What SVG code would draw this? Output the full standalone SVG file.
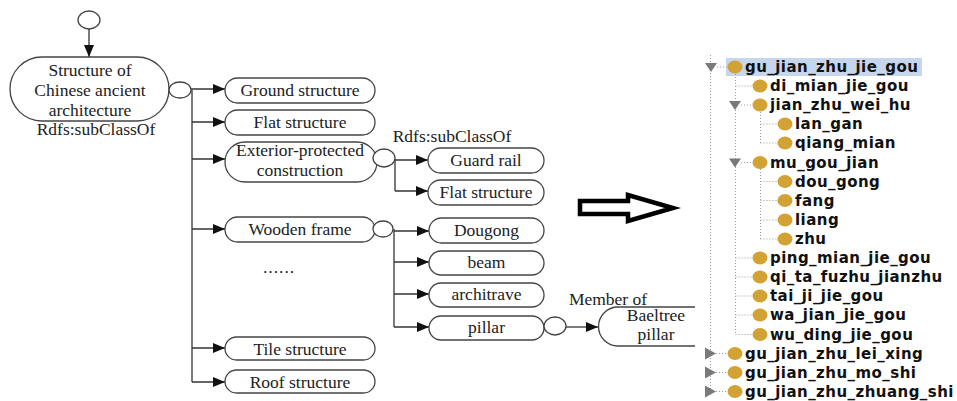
<svg xmlns="http://www.w3.org/2000/svg" width="957" height="401" viewBox="0 0 957 401">
<style>
.n{fill:#fff;stroke:#444;stroke-width:1.3}
.c{fill:#fff;stroke:#444;stroke-width:1.3}
.l{fill:none;stroke:#333;stroke-width:1.3}
.t{font-family:"Liberation Serif","Times New Roman",serif;font-size:17.5px;fill:#222;text-anchor:middle}
.tr{font-family:"DejaVu Sans",sans-serif;font-weight:bold;font-size:15px;letter-spacing:0.45px;fill:#111}
.dot{fill:#d3a234}
.dl{fill:none;stroke:#9a9a9a;stroke-width:1;stroke-dasharray:1 2}
.tri{fill:#7a7a7a}
</style>
<defs>
<marker id="ah" markerWidth="12" markerHeight="10" refX="12" refY="5" orient="auto" markerUnits="userSpaceOnUse"><path d="M0,0 L12,5 L0,10 z" fill="#111"/></marker>
</defs>

<g id="connectors">
<line class="l" x1="89" y1="29" x2="89" y2="57" marker-end="url(#ah)"/>
<path class="l" d="M192,90 V382"/>
<line class="l" x1="191" y1="89" x2="225" y2="89" marker-end="url(#ah)"/>
<line class="l" x1="192" y1="122" x2="225" y2="122" marker-end="url(#ah)"/>
<line class="l" x1="192" y1="159" x2="225" y2="159" marker-end="url(#ah)"/>
<line class="l" x1="192" y1="229" x2="225" y2="229" marker-end="url(#ah)"/>
<line class="l" x1="192" y1="348" x2="225" y2="348" marker-end="url(#ah)"/>
<line class="l" x1="192" y1="382" x2="225" y2="382" marker-end="url(#ah)"/>
<path class="l" d="M395,159 V191"/>
<line class="l" x1="395" y1="160" x2="428" y2="160" marker-end="url(#ah)"/>
<line class="l" x1="395" y1="191" x2="428" y2="191" marker-end="url(#ah)"/>
<path class="l" d="M394,229 V327"/>
<line class="l" x1="394" y1="231" x2="429" y2="231" marker-end="url(#ah)"/>
<line class="l" x1="394" y1="262" x2="429" y2="262" marker-end="url(#ah)"/>
<line class="l" x1="394" y1="294" x2="429" y2="294" marker-end="url(#ah)"/>
<line class="l" x1="394" y1="327" x2="429" y2="327" marker-end="url(#ah)"/>
<line class="l" x1="566" y1="327" x2="598" y2="327" marker-end="url(#ah)"/>
</g>

<g id="top-circle"><ellipse class="c" cx="89" cy="20" rx="11" ry="9"/></g>

<g id="root">
<rect class="n" x="10" y="57" width="159" height="64" rx="32" ry="32"/>
<text class="t" x="90" y="76">Structure of</text>
<text class="t" x="90" y="96">Chinese ancient</text>
<text class="t" x="90" y="116">architecture</text>
<text class="t" x="96" y="135">Rdfs:subClassOf</text>
<ellipse class="c" cx="180" cy="90" rx="11" ry="8"/>
</g>

<g id="ground"><rect class="n" x="225" y="78" width="150" height="25" rx="12.5"/><text class="t" x="300" y="96">Ground structure</text></g>
<g id="flat"><rect class="n" x="225" y="110" width="150" height="25" rx="12.5"/><text class="t" x="300" y="128">Flat structure</text></g>
<g id="exterior">
<rect class="n" x="225" y="142" width="152" height="40" rx="20"/>
<text class="t" x="300" y="156">Exterior-protected</text>
<text class="t" x="300" y="176">construction</text>
<ellipse class="c" cx="384" cy="158" rx="11" ry="9"/>
<text class="t" x="452" y="142">Rdfs:subClassOf</text>
</g>
<g id="guard"><rect class="n" x="428" y="148" width="116" height="25" rx="12.5"/><text class="t" x="486" y="166">Guard rail</text></g>
<g id="flat2"><rect class="n" x="428" y="180" width="116" height="25" rx="12.5"/><text class="t" x="486" y="198">Flat structure</text></g>
<g id="wooden">
<rect class="n" x="225" y="217" width="150" height="25" rx="12.5"/>
<text class="t" x="300" y="235">Wooden frame</text>
<ellipse class="c" cx="383" cy="229" rx="10" ry="8"/>
</g>
<g id="dots"><text class="t" x="279" y="273" style="letter-spacing:1px">......</text></g>
<g id="dougong"><rect class="n" x="429" y="218" width="115" height="25" rx="12.5"/><text class="t" x="486.5" y="236">Dougong</text></g>
<g id="beam"><rect class="n" x="429" y="251" width="115" height="24" rx="12"/><text class="t" x="486.5" y="268">beam</text></g>
<g id="architrave"><rect class="n" x="429" y="283" width="115" height="24" rx="12"/><text class="t" x="486.5" y="300">architrave</text></g>
<g id="pillar">
<rect class="n" x="429" y="316" width="115" height="24" rx="12"/>
<text class="t" x="486.5" y="333">pillar</text>
<ellipse class="c" cx="555" cy="326" rx="11" ry="9"/>
</g>
<g id="baeltree">
<path class="n" d="M695,307 H618 A19.5,19.5 0 0 0 618,346 H695"/>
<text class="t" x="608" y="305">Member of</text>
<text class="t" x="656" y="321">Baeltree</text>
<text class="t" x="656" y="340">pillar</text>
</g>
<g id="tile"><rect class="n" x="225" y="337" width="150" height="23" rx="11.5"/><text class="t" x="300" y="355">Tile structure</text></g>
<g id="roof"><rect class="n" x="225" y="370" width="150" height="23" rx="11.5"/><text class="t" x="300" y="388">Roof structure</text></g>

<g id="big-arrow"><polygon points="580,201 628,201 628,195 673,208 628,221 628,214 580,214" fill="#fff" stroke="#000" stroke-width="4.5" stroke-linejoin="miter"/></g>

<g id="tree">
<rect x="726" y="58" width="196" height="18" fill="#c6d6ec"/>
<path class="dl" d="M710.5,55 V392 M735.5,74 V334.5 M760.5,112 V143 M760.5,169 V239"/>
<path class="dl" d="M717,67 H728 M716,353.5 H728 M716,372.5 H728 M716,391.5 H728"/>
<path class="dl" d="M735.5,86 H753 M741,105 H753 M741,162.5 H753 M735.5,258 H753 M735.5,277 H753 M735.5,296 H753 M735.5,315 H753 M735.5,334.5 H753"/>
<path class="dl" d="M760.5,124 H778 M760.5,143 H778 M760.5,181.5 H778 M760.5,200.5 H778 M760.5,220 H778 M760.5,239 H778"/>
<polygon class="tri" points="705,63 717,63 711,72"/>
<polygon class="tri" points="729,101 741,101 735,110"/>
<polygon class="tri" points="729,158.5 741,158.5 735,167.5"/>
<polygon class="tri" points="705,347.5 705,359.5 716,353.5"/>
<polygon class="tri" points="705,366.5 705,378.5 716,372.5"/>
<polygon class="tri" points="705,385.5 705,397.5 716,391.5"/>

<g id="r0"><ellipse class="dot" cx="735" cy="67" rx="7.5" ry="6.5"/><text class="tr" x="745" y="72">gu_jian_zhu_jie_gou</text></g>
<g id="r1"><ellipse class="dot" cx="760" cy="86" rx="7.5" ry="6.5"/><text class="tr" x="770" y="91">di_mian_jie_gou</text></g>
<g id="r2"><ellipse class="dot" cx="760" cy="105" rx="7.5" ry="6.5"/><text class="tr" x="770" y="110">jian_zhu_wei_hu</text></g>
<g id="r3"><ellipse class="dot" cx="785" cy="124" rx="7.5" ry="6.5"/><text class="tr" x="795" y="129">lan_gan</text></g>
<g id="r4"><ellipse class="dot" cx="785" cy="143" rx="7.5" ry="6.5"/><text class="tr" x="795" y="148">qiang_mian</text></g>
<g id="r5"><ellipse class="dot" cx="760" cy="162.5" rx="7.5" ry="6.5"/><text class="tr" x="770" y="167.5">mu_gou_jian</text></g>
<g id="r6"><ellipse class="dot" cx="785" cy="181.5" rx="7.5" ry="6.5"/><text class="tr" x="795" y="186.5">dou_gong</text></g>
<g id="r7"><ellipse class="dot" cx="785" cy="200.5" rx="7.5" ry="6.5"/><text class="tr" x="795" y="205.5">fang</text></g>
<g id="r8"><ellipse class="dot" cx="785" cy="220" rx="7.5" ry="6.5"/><text class="tr" x="795" y="225">liang</text></g>
<g id="r9"><ellipse class="dot" cx="785" cy="239" rx="7.5" ry="6.5"/><text class="tr" x="795" y="244">zhu</text></g>
<g id="r10"><ellipse class="dot" cx="760" cy="258" rx="7.5" ry="6.5"/><text class="tr" x="770" y="263">ping_mian_jie_gou</text></g>
<g id="r11"><ellipse class="dot" cx="760" cy="277" rx="7.5" ry="6.5"/><text class="tr" x="770" y="282">qi_ta_fuzhu_jianzhu</text></g>
<g id="r12"><ellipse class="dot" cx="760" cy="296" rx="7.5" ry="6.5"/><text class="tr" x="770" y="301">tai_ji_jie_gou</text></g>
<g id="r13"><ellipse class="dot" cx="760" cy="315" rx="7.5" ry="6.5"/><text class="tr" x="770" y="320">wa_jian_jie_gou</text></g>
<g id="r14"><ellipse class="dot" cx="760" cy="334.5" rx="7.5" ry="6.5"/><text class="tr" x="770" y="339.5">wu_ding_jie_gou</text></g>
<g id="r15"><ellipse class="dot" cx="735" cy="353.5" rx="7.5" ry="6.5"/><text class="tr" x="745" y="358.5">gu_jian_zhu_lei_xing</text></g>
<g id="r16"><ellipse class="dot" cx="735" cy="372.5" rx="7.5" ry="6.5"/><text class="tr" x="745" y="377.5">gu_jian_zhu_mo_shi</text></g>
<g id="r17"><ellipse class="dot" cx="735" cy="391.5" rx="7.5" ry="6.5"/><text class="tr" x="745" y="396.5">gu_jian_zhu_zhuang_shi</text></g>
</g>
</svg>
